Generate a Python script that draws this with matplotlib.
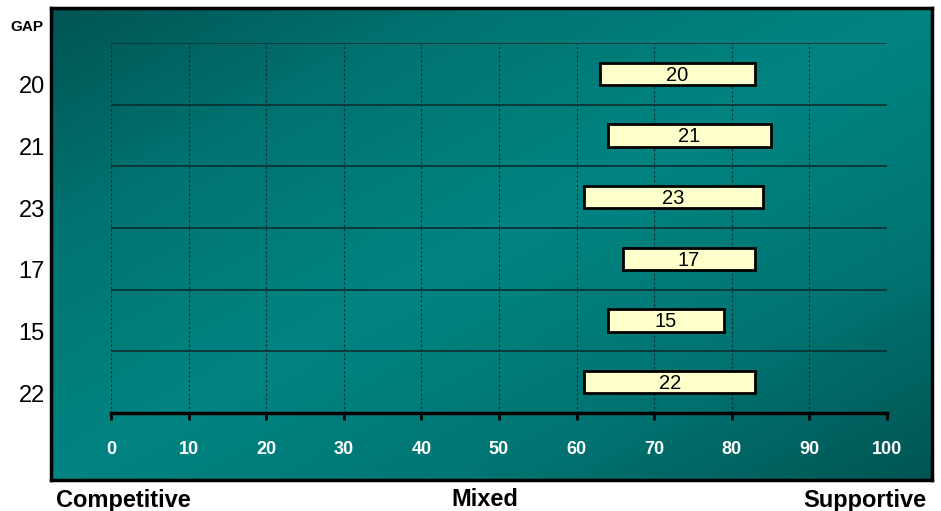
import numpy as np
import matplotlib.pyplot as plt
from matplotlib.transforms import blended_transform_factory
from matplotlib.colors import LinearSegmentedColormap

# gap ranges per group (start and end on the 0-100 scale)
gap_labels = ['20', '21', '23', '17', '15', '22']
range_start = [63, 64, 61, 66, 64, 61]
range_end = [83, 85, 84, 83, 79, 83]
gap_values = [20, 21, 23, 17, 15, 22]
x_ticks = [0, 10, 20, 30, 40, 50, 60, 70, 80, 90, 100]

W, H = 941, 511
fig = plt.figure(figsize=(W / 100, H / 100), dpi=100)
fig.patch.set_facecolor('white')

# teal panel with diagonal shading
bg = fig.add_axes([51 / W, 1 - 480 / H, (932 - 51) / W, (480 - 8) / H])
xx, yy = np.meshgrid(np.linspace(0, 1, 400), np.linspace(0, 1, 250))
t = np.abs((xx + yy) / 2 - 0.5) * 2
teal = LinearSegmentedColormap.from_list('teal', ['#008482', '#007472', '#005553'])
bg.imshow(t, cmap=teal, aspect='auto', extent=(0, 1, 0, 1), origin='upper')
bg.set_xticks([])
bg.set_yticks([])
for s in bg.spines.values():
    s.set_linewidth(2.5)
    s.set_color('black')

ax = fig.add_axes([111 / W, 1 - 413 / H, (887 - 111) / W, (413 - 43) / H])
ax.set_facecolor('none')
n = len(gap_labels)
y = np.arange(n)

for xv in x_ticks:
    ax.axvline(xv, color='#0b2f2f', lw=0.8, ls=(0, (2, 2)), zorder=1)
for b in np.arange(n) - 0.5:
    ax.axhline(b, color='#0a3030', lw=1.2, zorder=1)

widths = np.array(range_end) - np.array(range_start)
ax.barh(y, widths, left=range_start, height=0.36, color='#ffffcc',
        edgecolor='black', linewidth=2, zorder=3)
for i in range(n):
    ax.text((range_start[i] + range_end[i]) / 2, y[i] + 0.02, str(gap_values[i]),
            ha='center', va='center', fontsize=14.5, family='Liberation Sans', zorder=4)

ax.set_xlim(0, 100)
ax.set_ylim(n - 0.5, -0.5)
ax.set_xticks(x_ticks)
ax.set_xticklabels([str(v) for v in x_ticks], color='white', fontweight='bold',
                   fontsize=13, family='Liberation Sans')
ax.tick_params(axis='x', direction='out', length=5, width=2, color='black', pad=15)
ax.set_yticks([])
for side in ['top', 'left', 'right']:
    ax.spines[side].set_visible(False)
ax.spines['bottom'].set_linewidth(2.5)

# group labels outside the panel
tr = blended_transform_factory(fig.transFigure, ax.transData)
for i, lab in enumerate(gap_labels):
    fig.text(45 / W, y[i] + 0.22, lab, transform=tr, ha='right', va='center',
             fontsize=17, family='Liberation Sans')
fig.text(27 / W, 1 - 27 / H, 'GAP', ha='center', va='center', fontsize=11,
         fontweight='bold', family='Liberation Sans')

for xpos, lab, ha in [(56, 'Competitive', 'left'), (485, 'Mixed', 'center'),
                      (926, 'Supportive', 'right')]:
    fig.text(xpos / W, 1 - 500 / H, lab, ha=ha, va='center', fontsize=17,
             fontweight='bold', family='Liberation Sans')

fig.savefig('out.png', dpi=100)
